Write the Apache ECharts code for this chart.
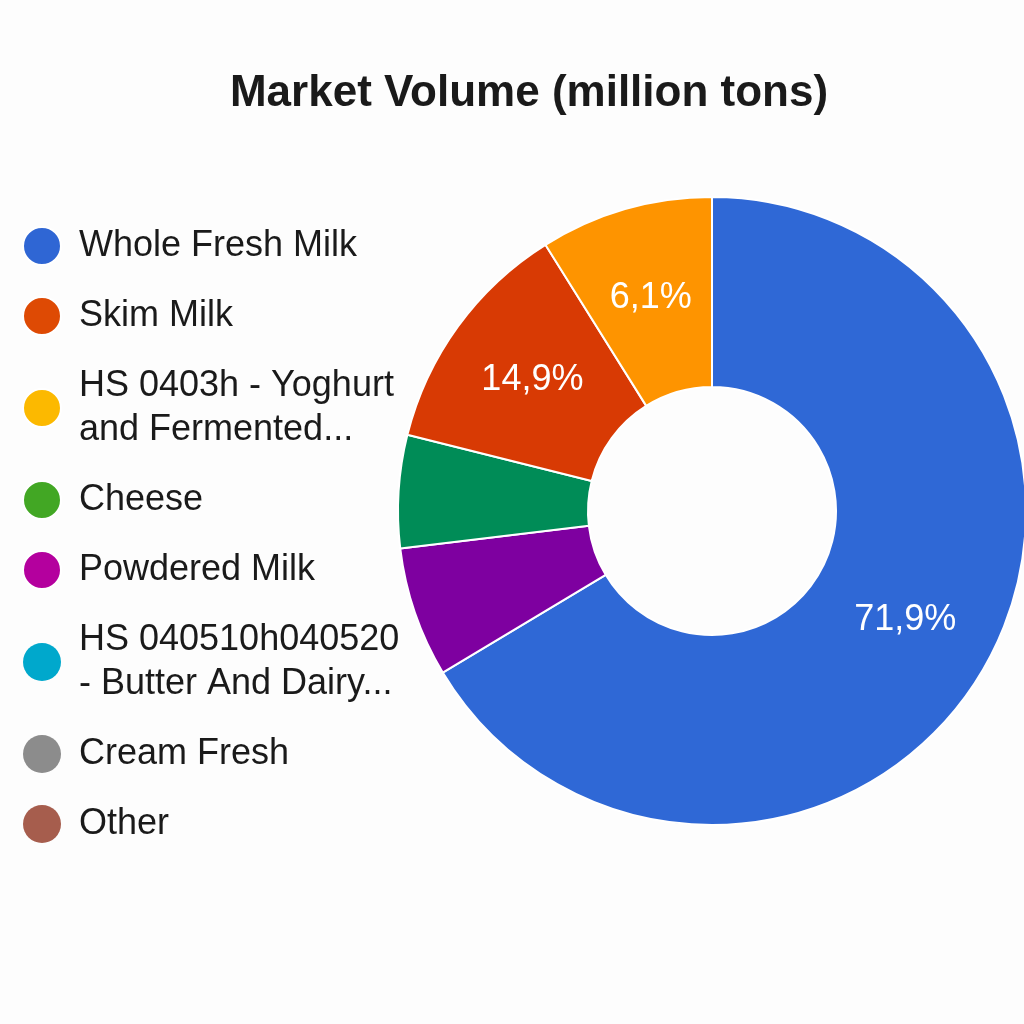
<!DOCTYPE html>
<html>

<head>
    <meta charset="utf-8">
    <script src="https://cdn.jsdelivr.net/npm/echarts@6/dist/echarts.min.js"></script>
    <style>
        body {
            margin: 0px;
            padding: 0px;
            background-color: #fdfdfd;
        }

        #chart {
            width: 1024px;
            height: 1024px;
        }
    </style>
</head>

<body>
    <div id="chart"></div>
    <script>
        // legend order, as listed on the left
        var categories = ['Whole Fresh Milk', 'Skim Milk', 'HS 0403h - Yoghurt\nand Fermented...', 'Cheese',
            'Powdered Milk', 'HS 040510h040520\n- Butter And Dairy...', 'Cream Fresh', 'Other'];
        // slice sizes (million tons)
        var volumes = [66.4, 12.2, 8.9, 5.8, 6.7, 0, 0, 0];
        // percentages printed on the slices
        var printedShares = ['71,9%', '14,9%', '6,1%', '', '', '', '', ''];
        // clockwise from 12 o'clock
        var sliceOrder = [0, 4, 3, 1, 2, 5, 6, 7];

        var sliceColors = ['#2f68d6', '#d83a04', '#fe9400', '#008c57', '#7e00a0', '#00a8cc', '#8c8c8c', '#a65d4d'];
        var legendColors = ['#2f66d4', '#de4a04', '#fcb900', '#42a724', '#b4009e', '#00a8cc', '#8c8c8c', '#a65d4d'];

        var chart = echarts.init(document.getElementById('chart'));

        var pieData = sliceOrder.map(function (i) {
            return {
                name: categories[i],
                value: volumes[i],
                label: { formatter: printedShares[i] },
                itemStyle: { color: sliceColors[i], borderWidth: volumes[i] > 0 ? 2 : 0 }
            };
        });

        chart.setOption({
            backgroundColor: '#fdfdfd',
            title: {
                text: 'Market Volume (million tons)',
                left: 524,
                textAlign: 'center',
                top: 67,
                textStyle: {
                    fontFamily: 'Liberation Sans',
                    fontSize: 44,
                    fontWeight: 'bold',
                    color: '#1a1a1a'
                }
            },
            legend: {
                orient: 'vertical',
                left: 22,
                top: 224,
                padding: 0,
                itemGap: 26,
                itemWidth: 38,
                itemHeight: 38,
                icon: 'circle',
                selectedMode: false,
                data: categories.map(function (c, i) {
                    return { name: c, itemStyle: { color: legendColors[i] } };
                }),
                textStyle: {
                    fontFamily: 'Liberation Sans',
                    fontSize: 36,
                    lineHeight: 44,
                    color: '#1a1a1a',
                    padding: [0, 0, 0, 13]
                }
            },
            series: [{
                name: 'Market Volume',
                type: 'pie',
                center: [712, 511],
                radius: [124, 314],
                startAngle: 90,
                clockwise: true,
                avoidLabelOverlap: false,
                silent: true,
                itemStyle: {
                    borderColor: '#ffffff',
                    borderWidth: 2
                },
                label: {
                    show: true,
                    position: 'inside',
                    color: '#ffffff',
                    fontFamily: 'Liberation Sans',
                    fontSize: 36,
                    textBorderWidth: 0
                },
                labelLine: { show: false },
                data: pieData
            }]
        });
    </script>
</body>

</html>
